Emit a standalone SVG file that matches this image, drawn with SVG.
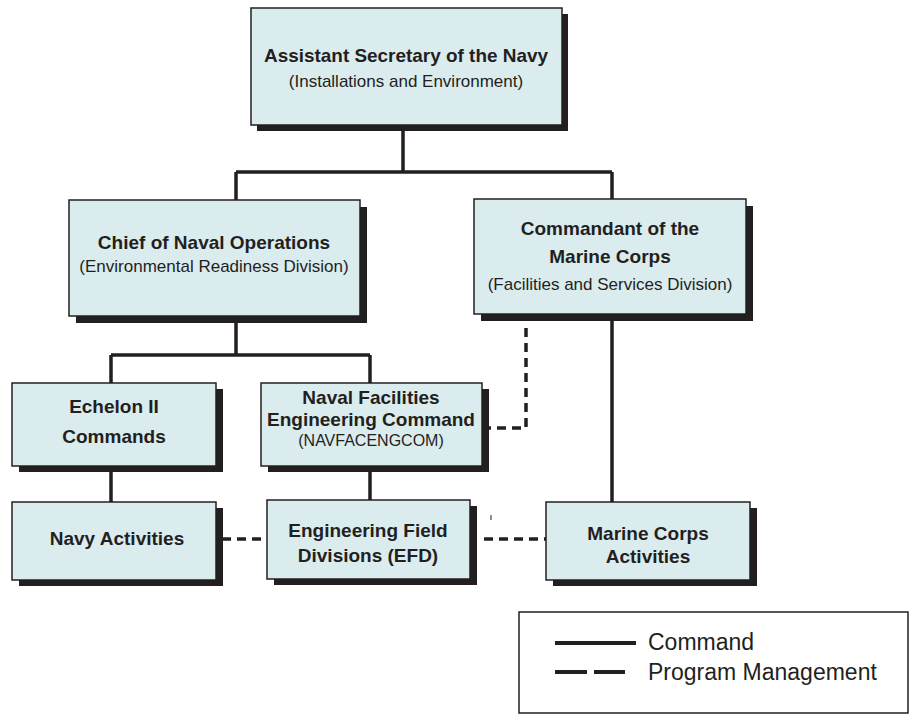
<svg xmlns="http://www.w3.org/2000/svg" width="914" height="715" viewBox="0 0 914 715">
<style>
.sh{fill:#231f20}
.bx{fill:#dbecef;stroke:#231f20;stroke-width:1.5}
.b{font-family:"Liberation Sans",Arial,sans-serif;font-weight:bold;font-size:19px;fill:#231f20;text-anchor:middle}
.r{font-family:"Liberation Sans",Arial,sans-serif;font-size:17px;fill:#231f20;text-anchor:middle}
.lg{font-family:"Liberation Sans",Arial,sans-serif;font-size:23px;fill:#231f20}
.s{fill:none;stroke:#231f20;stroke-width:3.5}
.d{fill:none;stroke:#231f20;stroke-width:3.5;stroke-dasharray:9 6}
</style>
<rect width="914" height="715" fill="#ffffff"/>
<g id="connectors">
<path class="s" d="M403 125V172M236 172H612M236 172V200M612 172V199"/>
<path class="s" d="M236 322V355M111 355H370M111 355V383M370 355V383"/>
<path class="s" d="M111 472V502M370 472V500M612 321V502"/>
<path class="d" d="M482 428H526V322"/>
<path class="d" d="M222 539H267"/>
<path class="d" d="M484 539H546"/>
<line x1="491" y1="515" x2="491" y2="520" stroke="#231f20" stroke-width="1"/>
</g>
<g id="asn">
<rect class="sh" x="257" y="14" width="311" height="117"/>
<rect class="bx" x="251" y="8" width="311" height="117"/>
<text class="b" x="406" y="62" textLength="284" lengthAdjust="spacingAndGlyphs">Assistant Secretary of the Navy</text>
<text class="r" x="406" y="87">(Installations and Environment)</text>
</g>
<g id="cno">
<rect class="sh" x="76" y="207" width="291" height="116"/>
<rect class="bx" x="69" y="200" width="291" height="116"/>
<text class="b" x="214" y="249">Chief of Naval Operations</text>
<text class="r" x="214" y="272">(Environmental Readiness Division)</text>
</g>
<g id="cmc">
<rect class="sh" x="481" y="206" width="272" height="115"/>
<rect class="bx" x="474" y="199" width="272" height="115"/>
<text class="b" x="610" y="235">Commandant of the</text>
<text class="b" x="610" y="263">Marine Corps</text>
<text class="r" x="610" y="290">(Facilities and Services Division)</text>
</g>
<g id="echelon">
<rect class="sh" x="19" y="389" width="204" height="83"/>
<rect class="bx" x="12" y="383" width="204" height="83"/>
<text class="b" x="114" y="413">Echelon II</text>
<text class="b" x="114" y="443">Commands</text>
</g>
<g id="navfac">
<rect class="sh" x="268" y="389" width="221" height="83"/>
<rect class="bx" x="261" y="383" width="221" height="83"/>
<text class="b" x="371" y="404">Naval Facilities</text>
<text class="b" x="371" y="426">Engineering Command</text>
<text class="r" x="371" y="446" style="font-size:16px">(NAVFACENGCOM)</text>
</g>
<g id="navy-activities">
<rect class="sh" x="19" y="508" width="204" height="78"/>
<rect class="bx" x="12" y="502" width="204" height="78"/>
<text class="b" x="117" y="545">Navy Activities</text>
</g>
<g id="efd">
<rect class="sh" x="274" y="506" width="203" height="79"/>
<rect class="bx" x="267" y="500" width="203" height="79"/>
<text class="b" x="368" y="537">Engineering Field</text>
<text class="b" x="368" y="562">Divisions (EFD)</text>
</g>
<g id="mca">
<rect class="sh" x="553" y="508" width="204" height="78"/>
<rect class="bx" x="546" y="502" width="204" height="78"/>
<text class="b" x="648" y="540">Marine Corps</text>
<text class="b" x="648" y="563">Activities</text>
</g>
<g id="legend">
<rect x="519" y="612" width="389" height="101" fill="#ffffff" stroke="#231f20" stroke-width="1.5"/>
<line x1="555" y1="643" x2="636" y2="643" stroke="#231f20" stroke-width="4"/>
<line x1="555" y1="672" x2="587" y2="672" stroke="#231f20" stroke-width="4"/>
<line x1="594" y1="672" x2="625" y2="672" stroke="#231f20" stroke-width="4"/>
<text class="lg" x="648" y="650">Command</text>
<text class="lg" x="648" y="680">Program Management</text>
</g>
</svg>
